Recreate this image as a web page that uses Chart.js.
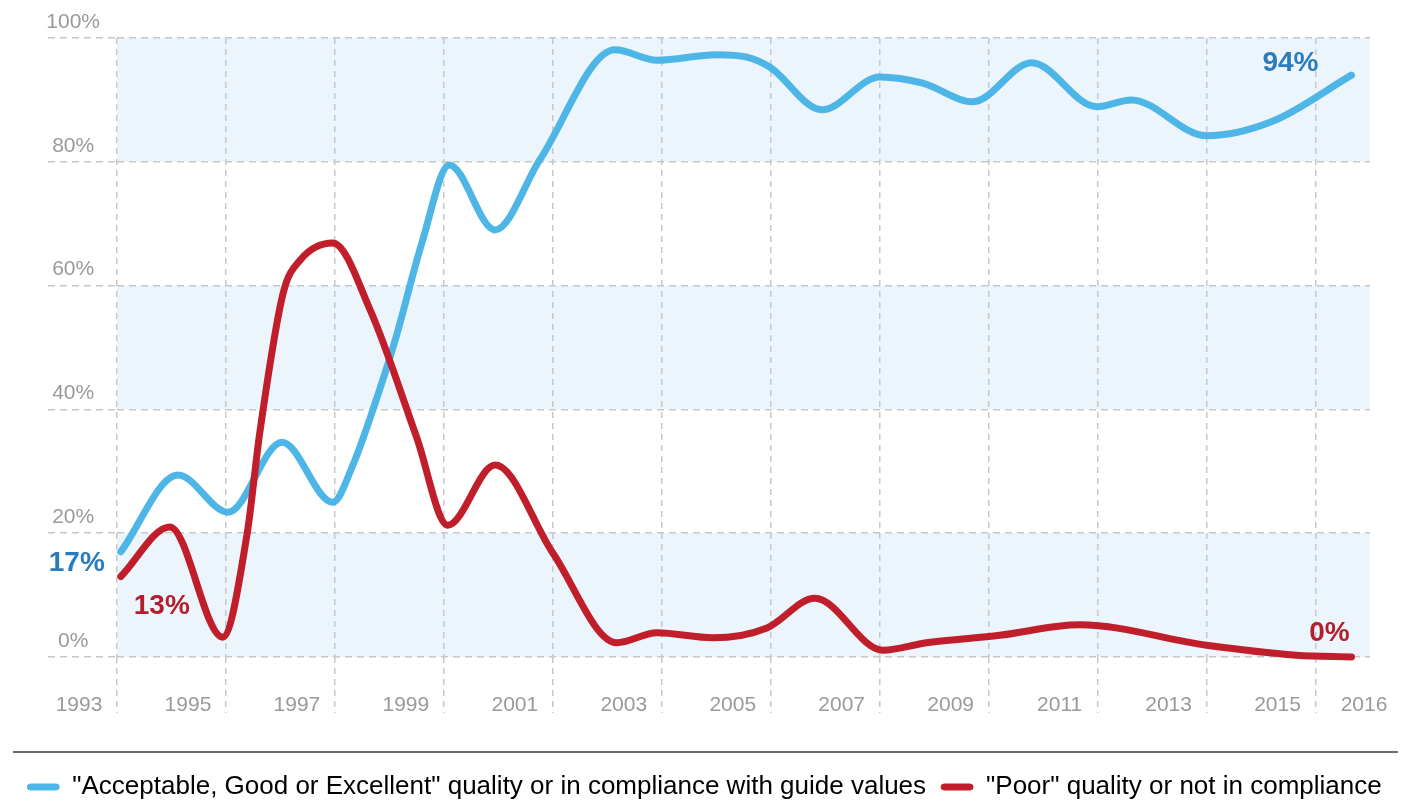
<!DOCTYPE html>
<html>
<head>
<meta charset="utf-8">
<script src="https://cdn.jsdelivr.net/npm/chart.js@4.4.0/dist/chart.umd.min.js"></script>
<style>
  html, body { margin: 0; padding: 0; background: #fff; }
  #wrap { width: 1409px; height: 803px; }
</style>
</head>
<body>
<div id="wrap"><canvas id="chart"></canvas></div>
<script>
// ── DATA ──────────────────────────────────────────────────────
// x = position on the year axis at each bend
const goodYears = [1993.07, 1994.12, 1995.04, 1996.03, 1996.96, 1997.33, 1997.7, 1998.1, 1998.6, 1999.1,
                   1999.94, 2000.76, 2002.14, 2002.91, 2004.01, 2004.56, 2004.98, 2005.94, 2007.0, 2007.79,
                   2008.71, 2009.79, 2010.98, 2011.62, 2013.0, 2014.2, 2015.66];
const goodPct   = [17, 29.4, 23.4, 34.7, 25.0, 31.0, 40.0, 51.0, 67.0, 79.5,
                   69.0, 80.3, 98.1, 96.4, 97.3, 96.9, 95.3, 88.4, 93.7, 92.7,
                   89.7, 96.0, 88.9, 90.0, 84.2, 86.5, 94];

const poorYears = [1993.07, 1993.97, 1994.94, 1995.39, 1995.62, 1996.05, 1996.36, 1996.96, 1997.65, 1998.5,
                   1999.07, 1999.94, 2001.0, 2002.17, 2002.91, 2003.94, 2004.93, 2005.81, 2007.06, 2007.86,
                   2009.2, 2010.67, 2013.0, 2014.65, 2015.66];
const poorPct   = [13, 21.0, 3.2, 20.0, 36.2, 58.8, 64.1, 66.9, 56.0, 35.5,
                   21.3, 31.0, 16.8, 2.3, 3.9, 3.1, 4.7, 9.5, 1.1, 2.3,
                   3.5, 5.2, 1.9, 0.3, 0];

const seriesNames  = ['"Acceptable, Good or Excellent" quality or in compliance with guide values',
                      '"Poor" quality or not in compliance'];
const seriesColors = ['#4db6e6', '#c01e2b'];
const labelColors  = ['#2a7cbd', '#b3202d'];

const gridYears  = [1993, 1995, 1997, 1999, 2001, 2003, 2005, 2007, 2009, 2011, 2013, 2015];
const labelYears = [1993, 1995, 1997, 1999, 2001, 2003, 2005, 2007, 2009, 2011, 2013, 2015, 2016];
const yTicks     = [0, 20, 40, 60, 80, 100];
const bands      = [[0, 20], [40, 60], [80, 100]];

const FONT = "'Liberation Sans', Arial, sans-serif";

// ── PLUGINS ───────────────────────────────────────────────────
// light blue horizontal bands behind the grid
const bandPlugin = {
  id: 'bands',
  beforeDraw(chart) {
    const { ctx, chartArea, scales: { y } } = chart;
    ctx.save();
    ctx.fillStyle = '#edf5fc';
    bands.forEach(([lo, hi]) => {
      const top = y.getPixelForValue(hi), bot = y.getPixelForValue(lo);
      ctx.fillRect(chartArea.left, top, chartArea.right - chartArea.left, bot - top);
    });
    ctx.restore();
  }
};

// year labels sit to the left of each dashed line
const yearLabels = {
  id: 'yearLabels',
  afterDraw(chart) {
    const { ctx, scales: { x }, chartArea } = chart;
    ctx.save();
    ctx.font = '21px ' + FONT;
    ctx.fillStyle = '#9a9a9a';
    ctx.textAlign = 'center';
    ctx.textBaseline = 'middle';
    labelYears.forEach((yr, i) => {
      const off = i === labelYears.length - 1 ? -6 : -38;
      ctx.fillText(String(yr), x.getPixelForValue(yr) + off, chartArea.bottom + 48);
    });
    // separator above the legend
    ctx.strokeStyle = '#6b6b6b';
    ctx.lineWidth = 2;
    ctx.beginPath();
    ctx.moveTo(13, chart.legend.top - 7);
    ctx.lineTo(1398, chart.legend.top - 7);
    ctx.stroke();
    ctx.restore();
  }
};

// first / last value labels
const endLabels = {
  id: 'endLabels',
  afterDatasetsDraw(chart) {
    const ctx = chart.ctx;
    const good = chart.getDatasetMeta(0).data, poor = chart.getDatasetMeta(1).data;
    ctx.save();
    ctx.font = 'bold 28px ' + FONT;
    ctx.textAlign = 'center';
    ctx.textBaseline = 'middle';
    const put = (pt, txt, color, dx, dy) => { ctx.fillStyle = color; ctx.fillText(txt, pt.x + dx, pt.y + dy); };
    put(good[0], Math.round(goodPct[0]) + '%', labelColors[0], -44, 12);
    put(good[good.length - 1], Math.round(goodPct[goodPct.length - 1]) + '%', labelColors[0], -61, -12);
    put(poor[0], Math.round(poorPct[0]) + '%', labelColors[1], 41, 30);
    put(poor[poor.length - 1], Math.round(poorPct[poorPct.length - 1]) + '%', labelColors[1], -22, -24);
    ctx.restore();
  }
};

// ── CHART ─────────────────────────────────────────────────────
const toPoints = (xs, ys) => xs.map((x, i) => ({ x, y: ys[i] }));

new Chart(document.getElementById('chart'), {
  type: 'line',
  data: {
    datasets: [{
      label: seriesNames[0],
      data: toPoints(goodYears, goodPct),
      borderColor: seriesColors[0],
      order: 1
    }, {
      label: seriesNames[1],
      data: toPoints(poorYears, poorPct),
      borderColor: seriesColors[1],
      order: 0
    }]
  },
  options: {
    responsive: true,
    maintainAspectRatio: false,
    animation: false,
    layout: { padding: { left: 0, top: 38, right: 0, bottom: -7 } },
    elements: {
      point: { radius: 0 },
      line: { borderWidth: 7, cubicInterpolationMode: 'monotone', borderCapStyle: 'round', borderJoinStyle: 'round', fill: false }
    },
    datasets: { line: { clip: false } },
    plugins: {
      tooltip: { enabled: false },
      legend: {
        position: 'bottom',
        labels: {
          boxWidth: 32, boxHeight: 6, padding: 15,
          color: '#6a6a6a',
          font: { size: 26, family: FONT },
          useBorderRadius: true, borderRadius: 3,
          generateLabels: () => seriesNames.map((name, i) => ({
            text: name, fillStyle: seriesColors[i], strokeStyle: seriesColors[i],
            lineWidth: 1, borderRadius: 3, datasetIndex: i, hidden: false
          }))
        }
      }
    },
    scales: {
      x: {
        type: 'linear', min: 1993, max: 2016,
        afterBuildTicks: s => { s.ticks = gridYears.map(v => ({ value: v })); },
        afterFit: s => { s.height = 102; },
        ticks: { display: false },
        grid: { color: '#c8c8c8', lineWidth: 1.5, tickLength: 56, tickColor: '#c8c8c8', tickWidth: 1.5, tickBorderDash: [6, 5] },
        border: { display: false, dash: [6, 5] }
      },
      y: {
        min: 0, max: 100,
        afterBuildTicks: s => { s.ticks = yTicks.map(v => ({ value: v })); },
        afterFit: s => { s.width = 117; },
        ticks: {
          callback: v => v + '%',
          color: '#9a9a9a',
          font: { size: 21, family: FONT },
          crossAlign: 'center',
          padding: -52,
          labelOffset: -16
        },
        grid: { color: '#c8c8c8', lineWidth: 1.5, tickLength: 69, tickColor: '#c8c8c8', tickWidth: 1.5, tickBorderDash: [7, 5] },
        border: { display: false, dash: [7, 5] }
      },
      // empty right-hand strip so the plot stops short of the edge
      yRight: {
        position: 'right',
        afterFit: s => { s.width = 39; },
        ticks: { display: false },
        grid: { display: false },
        border: { display: false }
      }
    }
  },
  plugins: [bandPlugin, yearLabels, endLabels]
});
</script>
</body>
</html>
